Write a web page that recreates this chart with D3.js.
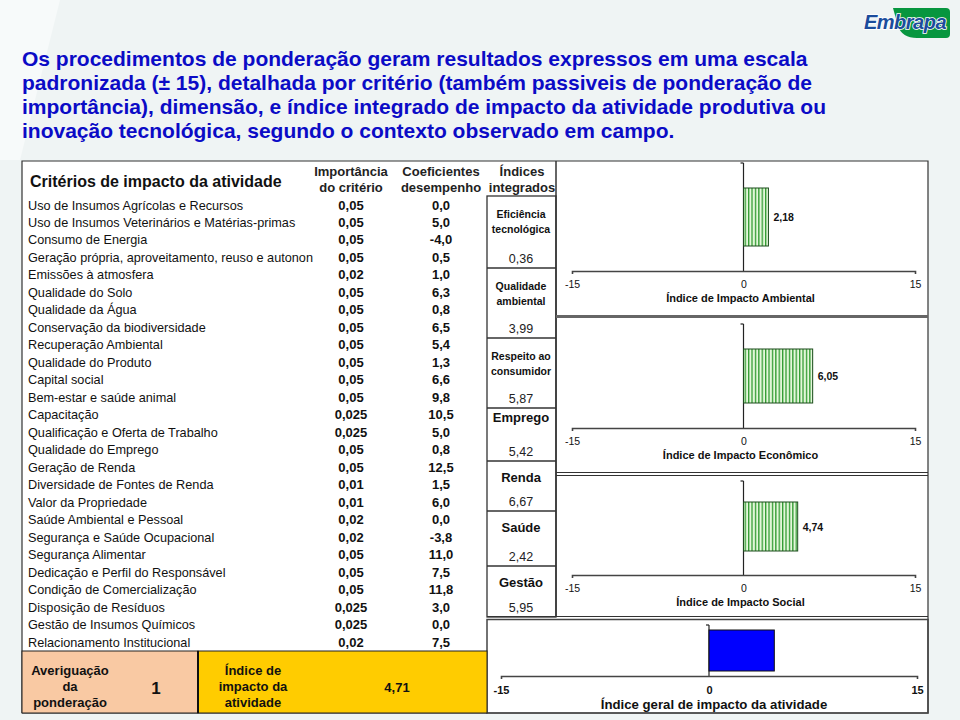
<!DOCTYPE html>
<html><head><meta charset="utf-8">
<script src="https://cdn.jsdelivr.net/npm/d3@7"></script>
<style>
html,body{margin:0;padding:0;background:#eff4f4;}
svg{display:block;font-family:"Liberation Sans",Arial,sans-serif;}
</style></head><body>
<svg id="c" width="960" height="720"></svg>
<script>
// ---------------- DATA ----------------
const titleLines = [
  "Os procedimentos de ponderação geram resultados expressos em uma escala",
  "padronizada (± 15), detalhada por critério (também passiveis de ponderação de",
  "importância), dimensão, e índice integrado de impacto da atividade produtiva ou",
  "inovação tecnológica, segundo o contexto observado em campo."
];
const tableTitle = "Critérios de impacto da atividade";
const columnHeaders = [["Importância","do critério"],["Coeficientes","desempenho"],["Índices","integrados"]];
const criteria = [
  "Uso de Insumos Agrícolas e Recursos",
  "Uso de Insumos Veterinários e Matérias-primas",
  "Consumo de Energia",
  "Geração própria, aproveitamento, reuso e autonon",
  "Emissões à atmosfera",
  "Qualidade do Solo",
  "Qualidade da Água",
  "Conservação da biodiversidade",
  "Recuperação Ambiental",
  "Qualidade do Produto",
  "Capital social",
  "Bem-estar e saúde animal",
  "Capacitação",
  "Qualificação e Oferta de Trabalho",
  "Qualidade do Emprego",
  "Geração de Renda",
  "Diversidade de Fontes de Renda",
  "Valor da Propriedade",
  "Saúde Ambiental e Pessoal",
  "Segurança e Saúde Ocupacional",
  "Segurança Alimentar",
  "Dedicação e Perfil do Responsável",
  "Condição de Comercialização",
  "Disposição de Resíduos",
  "Gestão de Insumos Químicos",
  "Relacionamento Institucional"
];
const importance = [0.05,0.05,0.05,0.05,0.02,0.05,0.05,0.05,0.05,0.05,0.05,0.05,0.025,0.025,0.05,0.05,0.01,0.01,0.02,0.02,0.05,0.05,0.05,0.025,0.025,0.02];
const coefficients = [0.0,5.0,-4.0,0.5,1.0,6.3,0.8,6.5,5.4,1.3,6.6,9.8,10.5,5.0,0.8,12.5,1.5,6.0,0.0,-3.8,11.0,7.5,11.8,3.0,0.0,7.5];
const indexLabels = [["Eficiência","tecnológica"],["Qualidade","ambiental"],["Respeito ao","consumidor"],["Emprego"],["Renda"],["Saúde"],["Gestão"]];
const indexValues = [0.36,3.99,5.87,5.42,6.67,2.42,5.95];
const dimensionTitles = ["Índice de Impacto Ambiental","Índice de Impacto Econômico","Índice de Impacto Social"];
const dimensionValues = [2.18,6.05,4.74];
const overallTitle = "Índice geral de impacto da atividade";
const overallValue = 4.71;
const weightCheckLabel = ["Averiguação","da","ponderação"];
const weightCheckValue = 1;
const overallLabel = ["Índice de","impacto da","atividade"];
const axisTicks = [-15, 0, 15];
const axisDomain = [-15, 15];

// ---------------- SETUP ----------------
const svg = d3.select("#c");
const loc = d3.formatLocale({decimal:",", thousands:".", grouping:[3], currency:["",""], minus:"-"});
const fImp = loc.format("");
const fCoef = loc.format(".1f");
const fIdx = loc.format(".2f");

const defs = svg.append("defs");
const pat = defs.append("pattern").attr("id","stripes").attr("patternUnits","userSpaceOnUse")
  .attr("width",3.4).attr("height",10);
pat.append("rect").attr("width",3.4).attr("height",10).attr("fill","#e4f7da");
pat.append("rect").attr("x",0).attr("width",1.3).attr("height",10).attr("fill","#2f9a2f");

// background
svg.append("rect").attr("width",960).attr("height",720).attr("fill","#eff4f4");
svg.append("path").attr("d","M0,0 L60,0 L20,160 L0,160 Z").attr("fill","#f7fafa");

// title
svg.append("g").selectAll("text").data(titleLines).join("text")
  .attr("x",22).attr("y",(d,i)=>66+i*24)
  .attr("font-size",21).attr("font-weight","bold").attr("fill","#0b0bc6").text(d=>d);

// logo
const logo = svg.append("g");
logo.append("path").attr("d","M893,8 L946,8 Q950,8 950,12 L950,34 Q950,38 946,38 L917,38 Q902,38 898,26 Z")
  .attr("fill","#07963f");
logo.append("text").attr("x",864).attr("y",29).attr("font-size",20).attr("font-weight","bold")
  .attr("font-style","italic").attr("fill","#1b4c9c").attr("stroke","#ffffff").attr("stroke-width",1.6)
  .attr("paint-order","stroke").attr("letter-spacing",-0.5).text("Embrapa");

// table white area
svg.append("rect").attr("x",22).attr("y",161).attr("width",906).attr("height",552).attr("fill","#ffffff");

// header
svg.append("text").attr("x",30).attr("y",187).attr("font-size",16).attr("font-weight","bold")
  .attr("fill","#111").text(tableTitle);
const headerX = [351, 441, 522];
columnHeaders.forEach((lines,i)=>{
  svg.append("g").selectAll("text").data(lines).join("text")
    .attr("x",headerX[i]).attr("y",(d,j)=>176+j*16).attr("text-anchor","middle")
    .attr("font-size",13).attr("font-weight","bold").attr("fill","#222").text(d=>d);
});

// rows
const yRow = d3.scalePoint().domain(d3.range(criteria.length)).range([205, 642]);
const rows = svg.append("g").selectAll("g").data(criteria).join("g")
  .attr("transform",(d,i)=>`translate(0,${yRow(i)})`);
rows.append("text").attr("x",28).attr("y",4.5).attr("font-size",12.7).attr("fill","#111").text(d=>d);
rows.append("text").attr("x",351).attr("y",4.5).attr("text-anchor","middle").attr("font-size",13)
  .attr("font-weight","bold").attr("fill","#111").text((d,i)=>fImp(importance[i]));
rows.append("text").attr("x",441).attr("y",4.5).attr("text-anchor","middle").attr("font-size",13)
  .attr("font-weight","bold").attr("fill","#111").text((d,i)=>fCoef(coefficients[i]));

// table outer border lines
const lines = svg.append("g").attr("stroke","#333").attr("fill","none");
lines.append("path").attr("d","M22,713 L22,161 L928,161 L928,713 L22,713").attr("stroke-width",1.2);
lines.append("line").attr("x1",556).attr("x2",556).attr("y1",161).attr("y2",617).attr("stroke-width",1.5);

// index column
const cellBounds = [196, 268, 338, 408, 461, 511, 566, 617];
const idx = svg.append("g");
idx.append("rect").attr("x",487).attr("y",196).attr("width",69).attr("height",421)
  .attr("fill","none").attr("stroke","#333").attr("stroke-width",1.3);
indexLabels.forEach((lab,i)=>{
  const top = cellBounds[i], bot = cellBounds[i+1];
  if(i>0) idx.append("line").attr("x1",487).attr("x2",556).attr("y1",top).attr("y2",top)
    .attr("stroke","#333").attr("stroke-width",1.3);
  const two = lab.length>1;
  idx.append("g").selectAll("text").data(lab).join("text")
    .attr("x",521).attr("y",(d,j)=>top + (two?22:(i===3?14:21)) + j*15)
    .attr("text-anchor","middle").attr("font-size",two?10.5:13).attr("font-weight","bold")
    .attr("fill","#111").text(d=>d);
  idx.append("text").attr("x",521).attr("y",bot-5).attr("text-anchor","middle")
    .attr("font-size",12.5).attr("fill","#222").text(fIdx(indexValues[i]));
});

// dimension charts
const panels = [{top:161,bottom:316,axisY:271},{top:318,bottom:473,axisY:428},{top:475,bottom:617,axisY:575}];
const xPanel = d3.scaleLinear().domain(axisDomain).range([572, 915]);
svg.append("rect").attr("x",556).attr("y",315).attr("width",372).attr("height",3).attr("fill","#666");
[472.5,475.5].forEach(yy=>svg.append("line").attr("x1",556).attr("x2",928).attr("y1",yy).attr("y2",yy).attr("stroke","#333"));
[616.5,619.5].forEach(yy=>svg.append("line").attr("x1",487).attr("x2",928).attr("y1",yy).attr("y2",yy).attr("stroke","#333").attr("stroke-width",1.2));

function drawChart(g, x, p, name, value, opts){
  const yB = d3.scaleBand().domain([name]).range([p.top+opts.barTop, p.axisY-opts.barGap]);
  g.append("line").attr("x1",x(0)).attr("x2",x(0)).attr("y1",p.top+opts.zeroTop).attr("y2",p.axisY)
    .attr("stroke","#222").attr("stroke-width",1.2);
  g.append("line").attr("x1",x(0)-3).attr("x2",x(0)).attr("y1",p.top+opts.zeroTop).attr("y2",p.top+opts.zeroTop)
    .attr("stroke","#222").attr("stroke-width",1.2);
  g.append("rect").attr("x",x(Math.min(0,value))).attr("y",yB(name))
    .attr("width",Math.abs(x(value)-x(0))).attr("height",yB.bandwidth())
    .attr("fill",opts.fill).attr("stroke",opts.stroke).attr("stroke-width",1);
  if(opts.showValue){
    g.append("text").attr("x",x(value)+5).attr("y",yB(name)+yB.bandwidth()/2+4)
      .attr("font-size",10.5).attr("font-weight","bold").attr("fill","#111").text(fIdx(value));
  }
  const axis = d3.axisBottom(x).tickValues(axisTicks).tickSizeInner(0).tickSizeOuter(3)
    .tickPadding(opts.pad).tickFormat(d=>d);
  const ag = g.append("g").attr("transform",`translate(0,${p.axisY})`).call(axis);
  ag.select(".domain").attr("stroke","#444").attr("stroke-width",1.6);
  ag.selectAll(".tick line").remove();
  ag.selectAll(".tick text").attr("font-size",opts.tickSize).attr("font-weight",opts.tickWeight)
    .attr("fill","#111").attr("font-family",'"Liberation Sans", Arial, sans-serif');
  g.append("text").attr("x",x(0)+opts.titleDx).attr("y",p.axisY+opts.titleDy).attr("text-anchor","middle")
    .attr("font-size",opts.titleSize).attr("font-weight","bold").attr("fill","#111").text(name);
}
dimensionTitles.forEach((name,i)=>{
  drawChart(svg.append("g"), xPanel, panels[i], name, dimensionValues[i],
    {barTop: i===1?31:27, barGap: i===2?24:25, zeroTop: i===0?2:6, fill:"url(#stripes)", stroke:"#1d4d1d",
     showValue:true, pad:10, tickSize:10.5, tickWeight:"normal", titleDx:-3, titleDy:31, titleSize:11});
});

// overall chart
svg.append("rect").attr("x",487).attr("y",619.5).attr("width",441).attr("height",93.5)
  .attr("fill","none").attr("stroke","#444").attr("stroke-width",1.5);
const xAll = d3.scaleLinear().domain(axisDomain).range([501, 917]);
drawChart(svg.append("g"), xAll, {top:619, bottom:713, axisY:676}, overallTitle, overallValue,
  {barTop:11, barGap:5, zeroTop:6, fill:"#0000ff", stroke:"#111", showValue:false,
   pad:10, tickSize:11, tickWeight:"bold", titleDx:5, titleDy:33, titleSize:13.2});

// bottom summary cells
svg.append("rect").attr("x",22).attr("y",651).attr("width",176).attr("height",62)
  .attr("fill","#f9c9a3").attr("stroke","#222").attr("stroke-width",1);
svg.append("rect").attr("x",198).attr("y",651).attr("width",289).attr("height",62)
  .attr("fill","#ffcc00").attr("stroke","#222").attr("stroke-width",1);
svg.append("line").attr("x1",198).attr("x2",198).attr("y1",651).attr("y2",713).attr("stroke","#111").attr("stroke-width",2);
svg.append("g").selectAll("text").data(weightCheckLabel).join("text")
  .attr("x",70).attr("y",(d,i)=>675+i*16).attr("text-anchor","middle").attr("font-size",13)
  .attr("font-weight","bold").attr("fill","#111").text(d=>d);
svg.append("text").attr("x",156).attr("y",694).attr("text-anchor","middle").attr("font-size",17)
  .attr("font-weight","bold").attr("fill","#111").text(weightCheckValue);
svg.append("g").selectAll("text").data(overallLabel).join("text")
  .attr("x",253).attr("y",(d,i)=>675+i*16).attr("text-anchor","middle").attr("font-size",13)
  .attr("font-weight","bold").attr("fill","#111").text(d=>d);
svg.append("text").attr("x",397).attr("y",692).attr("text-anchor","middle").attr("font-size",13)
  .attr("font-weight","bold").attr("fill","#111").text(fIdx(overallValue));
</script>
</body></html>
